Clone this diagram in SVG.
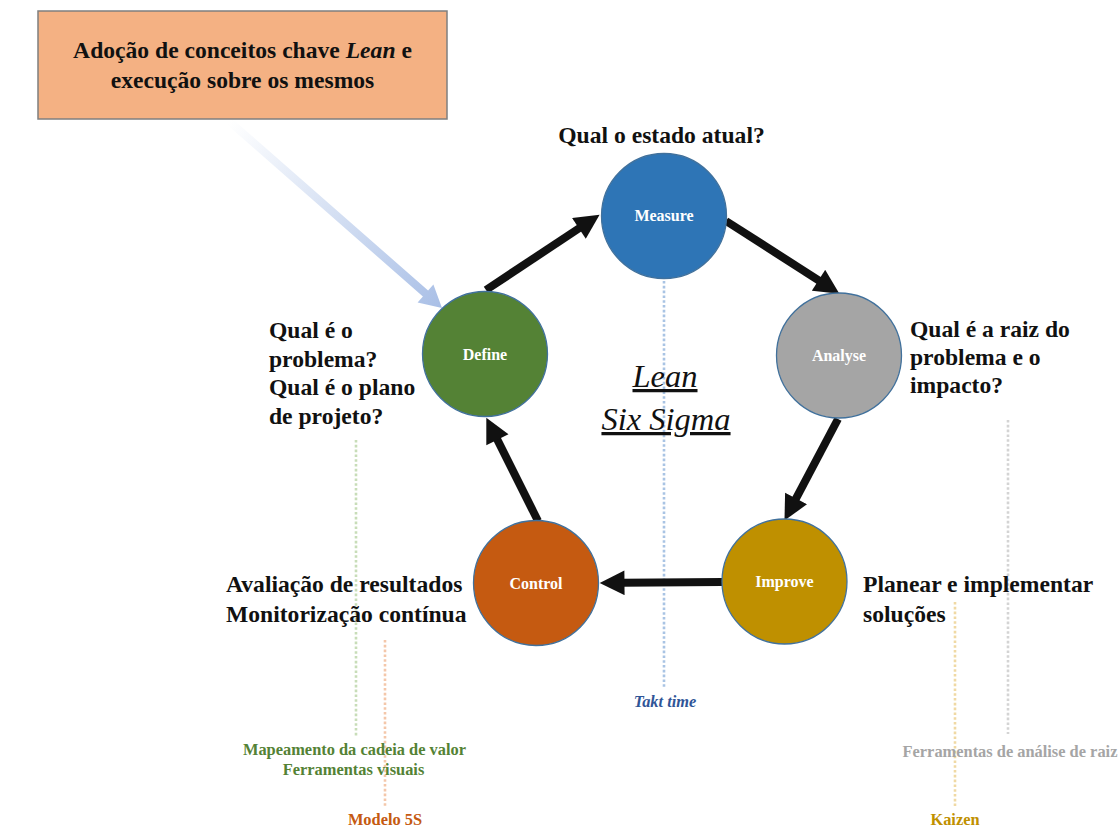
<svg xmlns="http://www.w3.org/2000/svg" width="1120" height="830" viewBox="0 0 1120 830">
<defs>
<style>
.big{font-family:"Liberation Serif","Times New Roman",serif;font-weight:bold;font-size:23.6px;fill:#111}
.node circle{stroke:#41719C;stroke-width:1.3}
.node text{font-family:"Liberation Serif","Times New Roman",serif;font-weight:bold;font-size:16px;fill:#fff;text-anchor:middle}
.conn{stroke:#111;stroke-width:8;fill:none;marker-end:url(#ah)}
.dot{stroke-width:2.6;stroke-dasharray:2.6 2.2;fill:none}
.lbl{font-family:"Liberation Serif","Times New Roman",serif;font-weight:bold;font-size:16.4px;text-anchor:middle}
</style>
<marker id="ah" viewBox="0 0 10 10" refX="1" refY="5" markerWidth="3.2" markerHeight="3.1" orient="auto" markerUnits="strokeWidth">
<path d="M0,0 L10,5 L0,10 z" fill="#111"/>
</marker>
<linearGradient id="bg" gradientUnits="userSpaceOnUse" x1="230" y1="122" x2="442" y2="308">
<stop offset="0" stop-color="#ffffff"/>
<stop offset="1" stop-color="#A9BFE6"/>
</linearGradient>
</defs>
<rect width="1120" height="830" fill="#fff"/>

<g id="dotted">
<line class="dot" x1="664" y1="281" x2="664" y2="688" stroke="#A9C4E4"/>
<line class="dot" x1="356" y1="440" x2="356" y2="736" stroke="#C8DDB8"/>
<line class="dot" x1="385" y1="640" x2="385" y2="806" stroke="#F4C7AA"/>
<line class="dot" x1="1008" y1="420" x2="1008" y2="734" stroke="#D4D4D4"/>
<line class="dot" x1="955" y1="602" x2="955" y2="806" stroke="#F0D9A4"/>
</g>

<g id="lean-arrow">
<polygon points="227.4,125 422.9,296.5 417.6,302.5 442,308 433.4,284.5 428.1,290.5 232.6,119" fill="url(#bg)"/>
</g>

<g id="lean-box">
<rect x="38" y="11" width="409" height="108" fill="#F4B183" stroke="#7F7F7F" stroke-width="1.5"/>
<text class="big" x="242.5" y="58" text-anchor="middle">Adoção de conceitos chave <tspan font-style="italic">Lean</tspan> e</text>
<text class="big" x="242.5" y="88" text-anchor="middle">execução sobre os mesmos</text>
</g>

<g id="connectors">
<line class="conn" x1="486" y1="290" x2="581" y2="227"/>
<line class="conn" x1="726" y1="221" x2="820.6" y2="281.6"/>
<line class="conn" x1="838" y1="419" x2="794.9" y2="500.7"/>
<line class="conn" x1="722" y1="582" x2="622" y2="582.8"/>
<line class="conn" x1="538" y1="521" x2="496.3" y2="437.6"/>
</g>

<g id="measure" class="node">
<circle cx="664" cy="216" r="62.5" fill="#2E75B6"/>
<text x="664" y="221">Measure</text>
</g>
<g id="analyse" class="node">
<circle cx="839" cy="355.5" r="62.5" fill="#A5A5A5"/>
<text x="839" y="361">Analyse</text>
</g>
<g id="improve" class="node">
<circle cx="784.5" cy="581.5" r="62.5" fill="#BF9000"/>
<text x="784.5" y="587">Improve</text>
</g>
<g id="control" class="node">
<circle cx="536" cy="583" r="62.5" fill="#C55A11"/>
<text x="536" y="588.5">Control</text>
</g>
<g id="define" class="node">
<circle cx="485" cy="354" r="62.5" fill="#548235"/>
<text x="485" y="359.5">Define</text>
</g>

<g id="questions">
<text class="big" x="661.5" y="143" text-anchor="middle">Qual o estado atual?</text>
<text class="big" x="269" y="338">Qual é o</text>
<text class="big" x="269" y="366.5">problema?</text>
<text class="big" x="269" y="395">Qual é o plano</text>
<text class="big" x="269" y="423.5">de projeto?</text>
<text class="big" x="910" y="337">Qual é a raiz do</text>
<text class="big" x="910" y="365">problema e o</text>
<text class="big" x="910" y="393">impacto?</text>
<text class="big" x="226" y="592">Avaliação de resultados</text>
<text class="big" x="226" y="622">Monitorização contínua</text>
<text class="big" x="863" y="592">Planear e implementar</text>
<text class="big" x="863" y="622">soluções</text>
</g>

<g id="title" font-family="Liberation Serif, Times New Roman, serif" font-style="italic" font-size="32.5" fill="#111" text-anchor="middle">
<text x="665" y="387" text-decoration="underline">Lean</text>
<text x="666" y="430" text-decoration="underline">Six Sigma</text>
</g>

<g id="tools">
<text class="lbl" x="354.5" y="755" fill="#548235">Mapeamento da cadeia de valor</text>
<text class="lbl" x="353.5" y="775" fill="#548235">Ferramentas visuais</text>
<text class="lbl" x="385" y="825" fill="#C55A11">Modelo 5S</text>
<text class="lbl" x="665" y="707" fill="#2F5597" font-style="italic">Takt time</text>
<text class="lbl" x="1010" y="757" fill="#A5A5A5">Ferramentas de análise de raiz</text>
<text class="lbl" x="955" y="825" fill="#BF9000">Kaizen</text>
</g>
</svg>
